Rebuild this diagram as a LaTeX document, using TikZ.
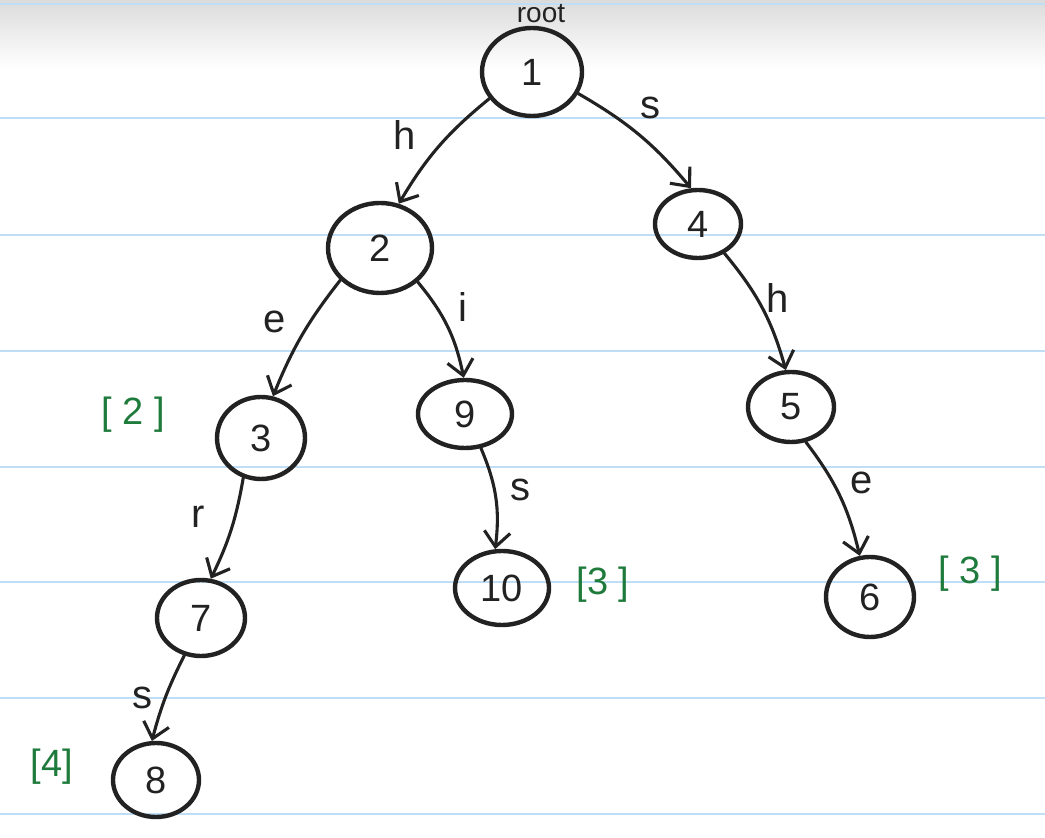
\documentclass[tikz,border=0pt]{standalone}
\usepackage{fontspec}
\setmainfont{Liberation Sans}
\usetikzlibrary{shapes.geometric,arrows.meta}
\definecolor{ruleblue}{HTML}{BFDDF5}
\definecolor{countgreen}{HTML}{1E7B3C}
\definecolor{ink}{HTML}{222222}
\begin{document}
\begin{tikzpicture}[x=1pt,y=1pt,
  state/.style={ellipse, draw=ink, line width=4.4pt, inner sep=0pt, text=ink,
    font=\fontsize{38}{40}\selectfont},
  edge/.style={draw=ink, line width=3.1pt, line cap=round,
    -{Straight Barb[length=15pt,width=26pt,line width=3.1pt]}},
  elabel/.style={font=\fontsize{40}{44}\selectfont, text=ink, inner sep=0pt},
  count/.style={font=\fontsize{38}{42}\selectfont, text=countgreen, inner sep=0pt},
  rule/.style={draw=ruleblue, line width=2.5pt}]
% paper
\useasboundingbox (0,0) rectangle (1045,838);
\fill[white] (0,0) rectangle (1045,838);
\shade[top color=black!14, bottom color=white] (0,770) rectangle (1045,838);
\foreach \yy in {834,720,603,487,371,256,140,24}
  \draw[rule] (0,\yy) -- (1045,\yy);
% nodes
\node[state, minimum width=100pt, minimum height=88pt] (n1) at (532,766) {1};
\node[state, minimum width=104pt, minimum height=90pt] (n2) at (380,590) {2};
\node[state, minimum width=86pt, minimum height=68pt] (n4) at (698,614) {4};
\node[state, minimum width=88pt, minimum height=82pt] (n3) at (261,400) {3};
\node[state, minimum width=94pt, minimum height=68pt] (n9) at (465,424) {9};
\node[state, minimum width=86pt, minimum height=70pt] (n5) at (791,431) {5};
\node[state, minimum width=88pt, minimum height=76pt] (n7) at (201,220) {7};
\node[state, minimum width=94pt, minimum height=74pt] (n10) at (502,250) {10};
\node[state, minimum width=88pt, minimum height=80pt] (n6) at (870,241) {6};
\node[state, minimum width=86pt, minimum height=74pt] (n8) at (156,58) {8};
% root label
\node[font=\fontsize{28}{30}\selectfont, text=ink, inner sep=0pt] (rootlbl) at (541,824) {root};
% edges
\draw[edge] (n1.212) to[bend right=10] (n2.67);
\draw[edge] (n1.335) to[bend left=10] (n4.101);
\draw[edge] (n2.219) to[bend right=8] (n3.74);
\draw[edge] (n2.318) to[bend left=14] (n9.92);
\draw[edge] (n4.312) to[bend left=12] (n5.98);
\draw[edge] (n3.246) to[bend left=8] (n7.76);
\draw[edge] (n9.295) to[bend left=15] (n10.100);
\draw[edge] (n5.293) to[bend left=12] (n6.104);
\draw[edge] (n7.246) to[bend right=6] (n8.96);
% edge labels
\node[elabel] (lh1) at (405,703) {h};
\node[elabel] (ls1) at (650,730) {s};
\node[elabel] (le2) at (275,516) {e};
\node[elabel] (li2) at (463,531) {i};
\node[elabel] (lh4) at (778,540) {h};
\node[elabel] (lr3) at (198,321) {r};
\node[elabel] (ls9) at (520,348) {s};
\node[elabel] (le5) at (862,355) {e};
\node[elabel] (ls7) at (142,140) {s};
% counts
\node[count] (c3) at (133,423) {[ 2 ]};
\node[count] (c8) at (52,71) {[4]};
\node[count] (c10) at (603,253) {[3 ]};
\node[count] (c6) at (970,264) {[ 3 ]};
\end{tikzpicture}
\end{document}
